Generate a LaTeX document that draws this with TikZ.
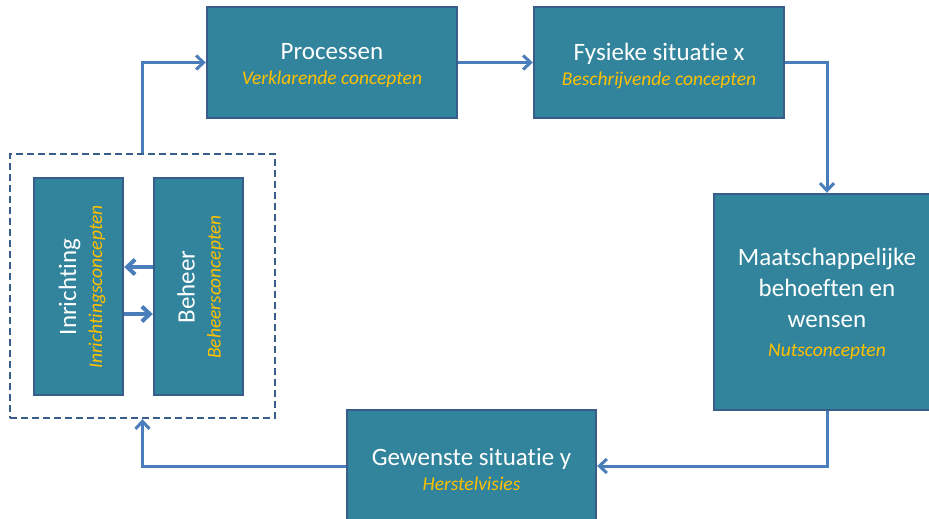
\documentclass[tikz,border=0pt]{standalone}
\usepackage{fontspec}
\setmainfont{Carlito}[Ligatures=NoCommon]
\usetikzlibrary{arrows.meta,calc}
\definecolor{boxfill}{HTML}{31849B}
\definecolor{boxline}{HTML}{385D8A}
\definecolor{arrcol}{HTML}{4A7EBB}
\definecolor{gold}{HTML}{FFC000}
\newcommand{\subtxt}[1]{{\fontsize{19.5}{24}\selectfont\itshape\color{gold}#1}}
\begin{document}
\begin{tikzpicture}[x=1pt,y=-1pt,
  box/.style={draw=boxline,line width=2.4pt,fill=boxfill,inner sep=0pt},
  lbl/.style={text=white,align=center,font=\fontsize{25}{31}\selectfont,inner sep=0pt},
  grpbox/.style={draw=boxline,line width=2.4pt,dash pattern=on 7pt off 4pt,inner sep=0pt},
  arr/.style={draw=arrcol,line width=3pt,-{Straight Barb[length=7.5pt,width=14pt]}},
  arrin/.style={draw=arrcol,line width=4pt,-{Straight Barb[length=8pt,width=15pt]}}]
\useasboundingbox (0,0) rectangle (929,519);
\clip (0,0) rectangle (929,519);
\node[box,minimum width=250pt,minimum height=111pt] (proc) at (332,62.5) {};
\node[box,minimum width=250pt,minimum height=111pt] (fys) at (659,62.5) {};
\node[box,minimum width=226pt,minimum height=216pt] (maat) at (827,302) {};
\node[box,minimum width=249pt,minimum height=112pt] (gew) at (471.5,466) {};
\node[grpbox,minimum width=265pt,minimum height=264pt] (grp) at (142.5,286) {};
\node[box,minimum width=89pt,minimum height=217pt] (inr) at (78.5,286.5) {};
\node[box,minimum width=89pt,minimum height=217pt] (beh) at (198.5,286.5) {};
\node[lbl] (proct) at (332,65.5) {Processen\\[-6pt]\subtxt{Verklarende concepten}};
\node[lbl] (fyst) at (659,65.5) {Fysieke situatie x\\[-6pt]\subtxt{Beschrijvende concepten}};
\node[lbl] (maatt) at (827,304) {Maatschappelijke\\behoeften en\\wensen\\[-2pt]\subtxt{Nutsconcepten}};
\node[lbl] (gewt) at (471.5,469.5) {Gewenste situatie y\\[-6pt]\subtxt{Herstelvisies}};
\node[lbl,rotate=90] (inrt) at (82,287) {Inrichting\\[-5pt]\subtxt{Inrichtingsconcepten}};
\node[lbl,rotate=90] (beht) at (200.5,287) {Beheer\\[-5pt]\subtxt{Beheersconcepten}};
\draw[arr] (grp.north) |- (proc.west);
\draw[arr] (proc.east) -- (fys.west);
\draw[arr] (fys.east) -| (maat.north);
\draw[arr] (maat.south) |- (gew.east);
\draw[arr] (gew.west) -| (grp.south);
\draw[arrin] ([yshift=19.5pt]beh.west) -- ([yshift=19.5pt]inr.east);
\draw[arrin] ([yshift=-27.5pt]inr.east) -- ([yshift=-27.5pt]beh.west);
\end{tikzpicture}
\end{document}
